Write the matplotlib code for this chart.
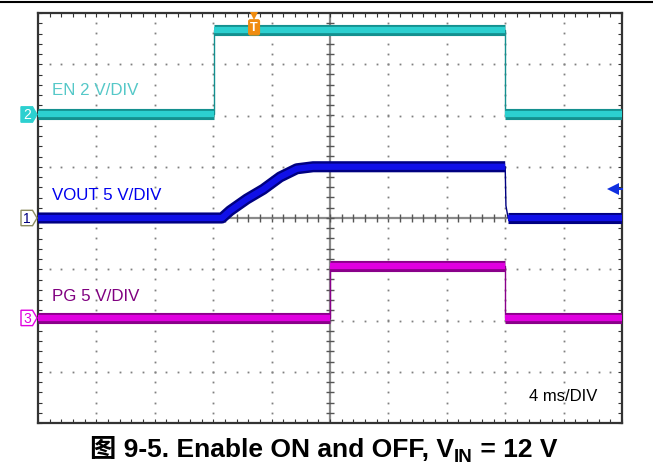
import matplotlib
matplotlib.use("Agg")
import matplotlib.pyplot as plt
from matplotlib.patches import Polygon
from matplotlib.lines import Line2D
from matplotlib.ticker import MultipleLocator
from matplotlib import transforms
import numpy as np

plt.rcParams['font.family'] = ['Liberation Sans', 'Noto Sans CJK SC', 'DejaVu Sans']

# time in ms (4 ms/div, 10 div), voltages in V
en_t = [0, 12.05, 12.05, 32.0, 32.0, 40]
en_v = [0, 0, 3.3, 3.3, 0, 0]

vout_t = [0, 12.6, 13.15, 14.3, 15.43, 16.58, 17.72, 18.84, 32.0, 32.05, 32.2, 40]
vout_v = [0, 0, 0.7, 1.85, 2.8, 4.0, 4.8, 5.0, 5.0, 1.2, 0, 0]

pg_t = [0, 20.0, 20.0, 32.0, 32.0, 40]
pg_v = [0, 0, 5.1, 5.1, 0, 0]

# channel: (times, volts, V/div, offset div, band dark, band light, label, label colour)
channels = {
    '2': (en_t, en_v, 2.0, 2.02, '#14908f', '#2cd0d0', 'EN 2 V/DIV', '#55c8c8'),
    '1': (vout_t, vout_v, 5.0, 0.0, '#000080', '#1010e8', 'VOUT 5 V/DIV', '#0000ee'),
    '3': (pg_t, pg_v, 5.0, -1.95, '#8a008a', '#e000e0', 'PG 5 V/DIV', '#800080'),
}
label_pos = {'2': 2.42, '1': 0.37, '3': -1.6}

fig = plt.figure(figsize=(6.53, 4.77), dpi=100)
ax = fig.add_axes([38 / 653, 53 / 477, 584 / 653, 410 / 477])
ax.set_xlim(0, 40)
ax.set_ylim(-4, 4)

# border ticks
ax.xaxis.set_major_locator(MultipleLocator(0.8))
ax.yaxis.set_major_locator(MultipleLocator(0.2))
ax.tick_params(which='both', direction='in', length=3, width=0.8, color='#333333',
               top=True, right=True, labelbottom=False, labelleft=False)
for sp in ax.spines.values():
    sp.set_color('#333333')
    sp.set_linewidth(1.6)

# dotted graticule
gx = [4, 8, 12, 16, 24, 28, 32, 36]
gy = [-3, -2, -1, 1, 2, 3]
minor_y = np.arange(-3.8, 3.81, 0.2)
minor_x = np.arange(0.8, 39.3, 0.8)
for x in gx:
    ax.plot([x] * len(minor_y), minor_y, ls='none', marker='s', ms=1.3, mew=0, color='#808080')
for y in gy:
    ax.plot(minor_x, [y] * len(minor_x), ls='none', marker='s', ms=1.3, mew=0, color='#808080')

# centre crosshair
ax.axhline(0, color='#8a8a8a', lw=1.6, zorder=1)
ax.axvline(20, color='#8a8a8a', lw=1.6, zorder=1)
ax.plot(minor_x, [0] * len(minor_x), ls='none', marker='|', ms=6, mew=1, color='#555555', zorder=1)
ax.plot([20] * len(minor_y), minor_y, ls='none', marker='_', ms=6, mew=1, color='#555555', zorder=1)

# traces
blend = transforms.blended_transform_factory(ax.transAxes, ax.transData)
for ch, (t, v, vdiv, off, dark, light, label, lcol) in channels.items():
    y = np.array(v) / vdiv + off
    ax.plot(t, y, color=dark, lw=1.0, zorder=3)
    # thick noisy band on the slow parts, thin line on the fast edges
    runs, cur = [], [0]
    for i in range(len(t) - 1):
        if t[i + 1] - t[i] > 0.3:
            cur.append(i + 1)
        else:
            if len(cur) > 1:
                runs.append(cur)
            cur = [i + 1]
    if len(cur) > 1:
        runs.append(cur)
    for r in runs:
        ax.plot([t[i] for i in r], y[r], color=dark, lw=8, solid_capstyle='butt',
                solid_joinstyle='round', zorder=3)
        ax.plot([t[i] for i in r], y[r], color=light, lw=4.5, solid_capstyle='butt',
                solid_joinstyle='round', zorder=4)
    ax.text(0.96, label_pos[ch], label, color=lcol, fontsize=12.2, va='baseline', ha='left')

    # channel marker on the left
    w, h = 16 / 584, 0.15
    x0 = -17 / 584
    filled = ch == '2'
    poly = Polygon([(x0, off - h), (x0 + w * 0.72, off - h), (x0 + w, off),
                    (x0 + w * 0.72, off + h), (x0, off + h)], closed=True,
                   transform=blend, clip_on=False, zorder=5,
                   facecolor=light if filled else 'white',
                   edgecolor=light if ch != '1' else '#8c8c60', lw=1)
    ax.add_patch(poly)
    ax.text(x0 + w * 0.38, off, ch, transform=blend, ha='center', va='center',
            fontsize=10, color='white' if filled else (dark if ch == '1' else light),
            clip_on=False, zorder=6)

# trigger marker
ax.plot([14.8], [3.95], marker='v', ms=6, color='#f08c10', mew=0, clip_on=False, zorder=6)
ax.text(14.8, 3.72, 'T', ha='center', va='center', fontsize=9, fontweight='bold', color='white',
        zorder=6, bbox=dict(boxstyle='round,pad=0.12', fc='#f08c10', ec='#f08c10'))

# ground reference arrow
ax.plot([39.4, 40], [0.57, 0.57], color='#1030e0', lw=1.4, zorder=6, clip_on=False)
ax.plot([39.35], [0.57], marker='<', ms=8, mew=0, color='#1030e0', zorder=6, clip_on=False)

ax.text(33.6, -3.55, '4 ms/DIV', fontsize=12, color='black', va='baseline', ha='left')

# header rule
fig.add_artist(Line2D([0, 1], [1 - 3 / 477] * 2, transform=fig.transFigure, color='black', lw=1.5))

# caption
t1 = fig.text(90 / 653, 1 - 462 / 477, '图 9-5. Enable ON and OFF, V', fontsize=19,
              fontweight='bold', ha='left', va='bottom')
t2 = ax.annotate('IN', xy=(1, 0), xycoords=t1, fontsize=13.5, fontweight='bold',
                 ha='left', va='baseline', annotation_clip=False)
ax.annotate(' = 12 V', xy=(1, 0), xycoords=(t2, t1), fontsize=19, fontweight='bold',
            ha='left', va='bottom', annotation_clip=False)

fig.savefig('out.png', dpi=100)
